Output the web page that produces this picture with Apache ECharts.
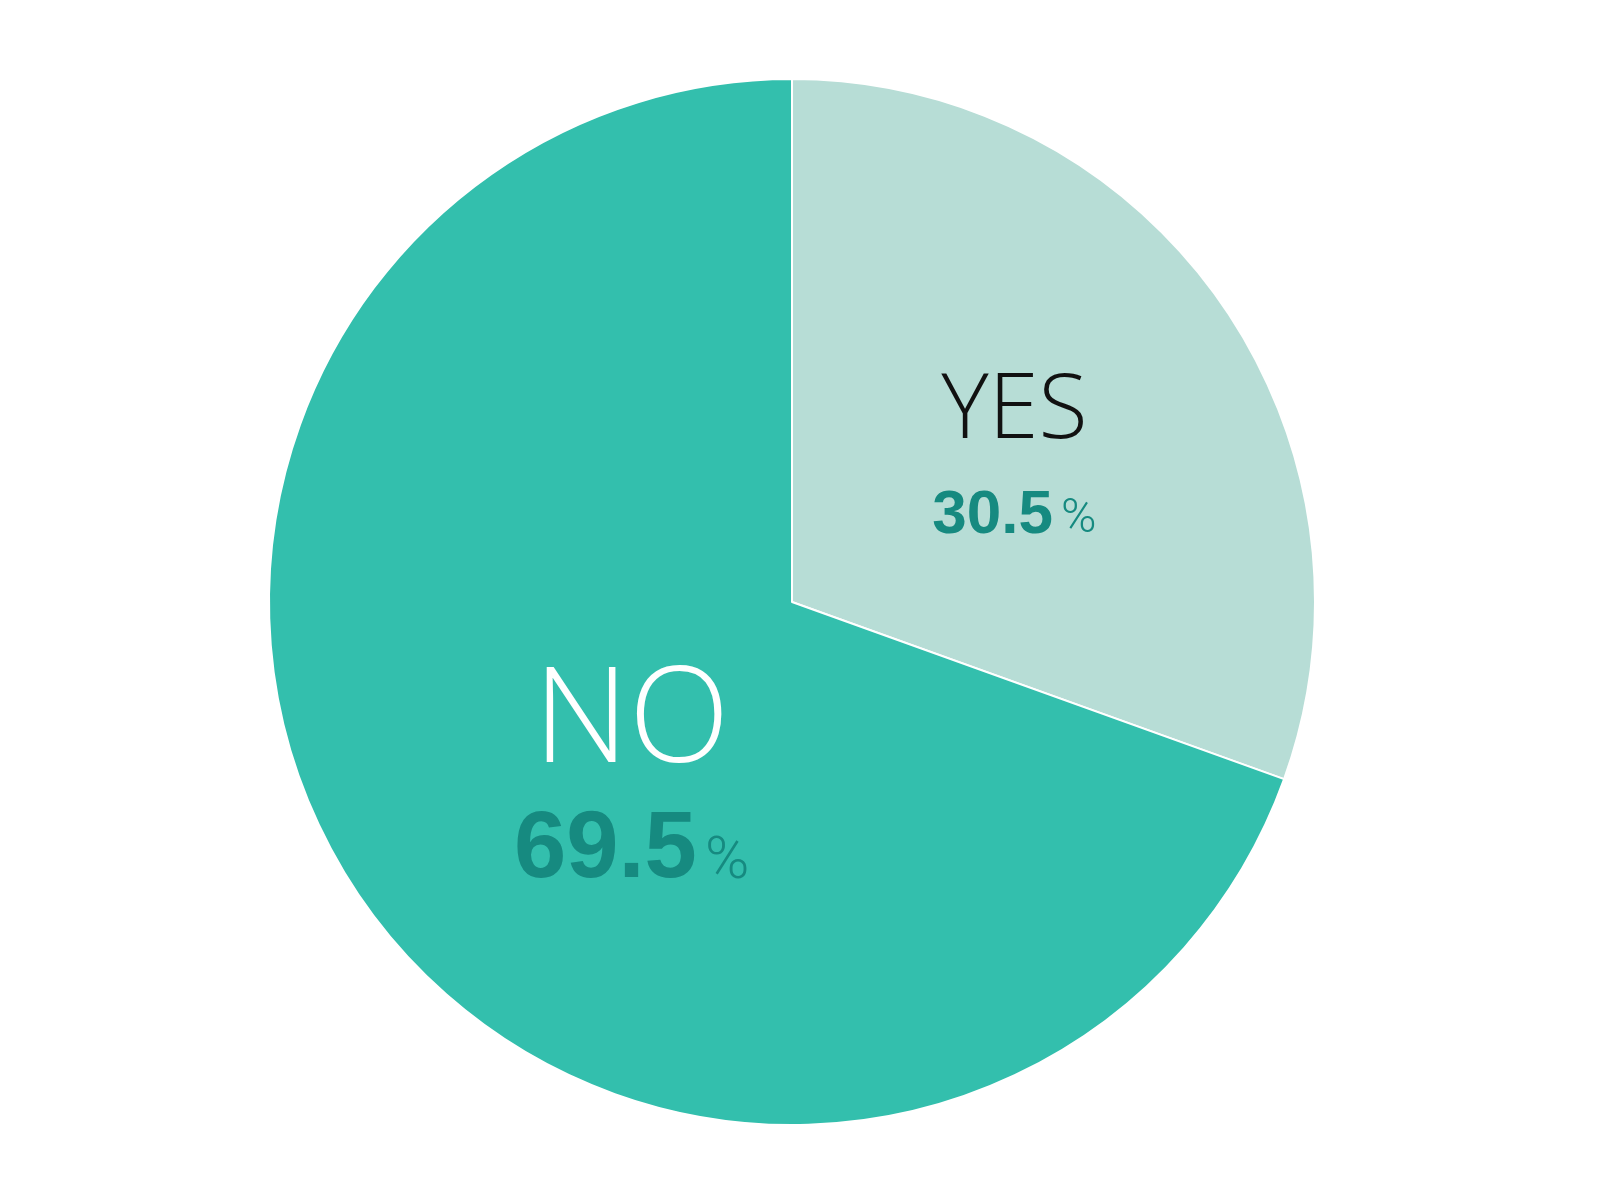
<!DOCTYPE html>
<html>
<head>
<meta charset="utf-8">
<script src="https://cdn.jsdelivr.net/npm/echarts@6/dist/echarts.min.js"></script>
<style>html,body{margin:0;padding:0;background:#fff}#c{width:1600px;height:1200px}</style>
</head>
<body>
<div id="c"></div>
<script>
const categories = ['YES', 'NO'];
const values = [30.5, 69.5];
const sliceColors = ['#b7ddd6', '#33bfad'];
const nameColors = ['#111111', '#ffffff'];

const chart = echarts.init(document.getElementById('c'));
const numFont = '"Liberation Sans", Arial, sans-serif';
const unitFont = 'Roboto, sans-serif';
const nameFont = '"Open Sans", sans-serif';
const data = categories.map((c, i) => {
  const big = i === 1;
  return {
    name: c,
    value: values[i],
    itemStyle: { color: sliceColors[i] },
    label: {
      formatter: (big ? '{bn|' : '{sn|') + c + '}\n' +
                 (big ? '{bp|' : '{sp|') + values[i].toFixed(1) + '}' +
                 (big ? '{bu|' : '{su|') + '%}',
      rich: {
        sn: { fontFamily: nameFont, fontWeight: 350, fontSize: 90, color: nameColors[i], lineHeight: 80, verticalAlign: 'bottom' },
        bn: { fontFamily: nameFont, fontWeight: 350, fontSize: 132, color: nameColors[i], lineHeight: 120, verticalAlign: 'bottom' },
        sp: { fontFamily: numFont, fontWeight: 'bold', fontSize: 62, color: '#168a80', lineHeight: 90, verticalAlign: 'bottom' },
        su: { fontFamily: unitFont, fontWeight: 300, fontSize: 48, color: '#168a80', lineHeight: 90, verticalAlign: 'bottom', padding: [0, 0, 3, 8] },
        bp: { fontFamily: numFont, fontWeight: 'bold', fontSize: 94, color: '#168a80', lineHeight: 108, verticalAlign: 'bottom' },
        bu: { fontFamily: unitFont, fontWeight: 300, fontSize: 60, color: '#168a80', lineHeight: 108, verticalAlign: 'bottom', padding: [0, 0, 5, 8] }
      }
    }
  };
});

chart.setOption({
  backgroundColor: '#ffffff',
  animation: false,
  series: [{
    type: 'pie',
    center: [792, 602],
    radius: [0, 523],
    startAngle: 90,
    clockwise: true,
    label: { show: true, position: 'inside' },
    labelLine: { show: false },
    itemStyle: { borderColor: '#ffffff', borderWidth: 2 },
    emphasis: { disabled: true },
    labelLayout: p => p.dataIndex === 1 ? { dx: 56, dy: 30 } : { dx: 6, dy: 12 },
    data: data
  }]
});
</script>
</body>
</html>
